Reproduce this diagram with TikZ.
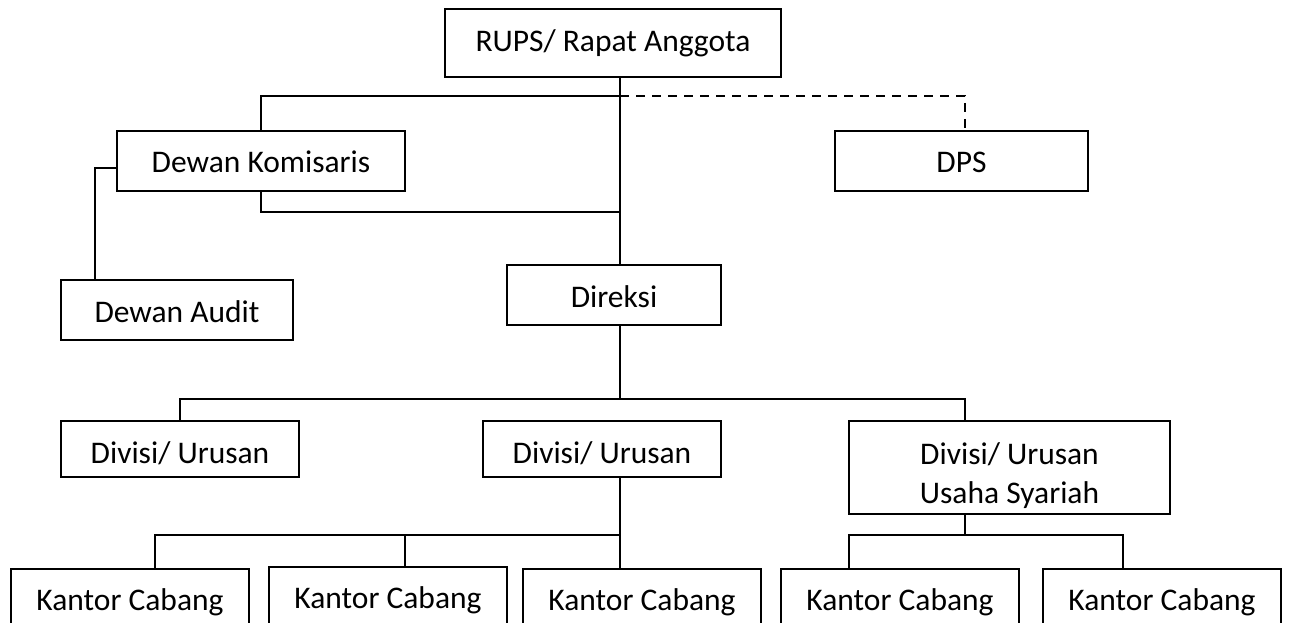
\documentclass[tikz,border=0pt]{standalone}
\usepackage{fontspec}
\setmainfont{Carlito}
\begin{document}
\begin{tikzpicture}[x=1pt,y=-1pt,
  box/.style={draw, line width=1.2pt, inner sep=0pt, text height=20pt, text depth=0pt,
    font=\fontsize{31.5}{39}\selectfont},
  conn/.style={line width=1.2pt},
  dconn/.style={line width=1.2pt, dash pattern=on 9pt off 7pt}]
\useasboundingbox (0,0) rectangle (1289,623);
\clip (0,0) rectangle (1289,623);
% boxes
\node[box, minimum width=336pt, minimum height=68pt, text height=18pt] (rups) at (613,43) {RUPS/ Rapat Anggota};
\node[box, minimum width=288pt, minimum height=60pt, text height=23pt] (dk) at (261,161) {Dewan Komisaris};
\node[box, minimum width=253pt, minimum height=60pt, text height=23pt] (dps) at (961.5,161) {DPS};
\node[box, minimum width=232pt, minimum height=60pt, text height=25pt] (da) at (177,310) {Dewan Audit};
\node[box, minimum width=214pt, minimum height=60pt, text height=24pt] (dir) at (614,295) {Direksi};
\node[box, minimum width=238pt, minimum height=56pt, text height=29pt] (div1) at (180,449) {Divisi/ Urusan};
\node[box, minimum width=238pt, minimum height=56pt, text height=29pt] (div2) at (602,449) {Divisi/ Urusan};
\node[box, minimum width=321pt, minimum height=93pt, align=center, text height=71pt] (div3) at (1009.5,467.5) {Divisi/ Urusan\\Usaha Syariah};
\node[box, minimum width=238pt, minimum height=62pt] (kc1) at (130,600) {Kantor Cabang};
\node[box, minimum width=238pt, minimum height=62pt] (kc2) at (388,598) {Kantor Cabang};
\node[box, minimum width=238pt, minimum height=62pt] (kc3) at (642,600) {Kantor Cabang};
\node[box, minimum width=238pt, minimum height=62pt] (kc4) at (900,600) {Kantor Cabang};
\node[box, minimum width=238pt, minimum height=62pt] (kc5) at (1162,600) {Kantor Cabang};
% junctions
\coordinate (trunk) at (620,96);
\coordinate (dkj) at (620,212);
\coordinate (dac) at (95,168);
\coordinate (divbar) at (620,399);
\coordinate (kcbar) at (620,535);
\coordinate (sybar) at (965,535);
% connectors
\draw[conn] (trunk |- rups.south) -- (trunk |- dir.north);
\draw[conn] (dk.north) |- (trunk);
\draw[dconn] (trunk) -| (965,0 |- dps.north);
\draw[conn] (dk.south) |- (dkj);
\draw[conn] ([yshift=-7pt]dk.west) -- (dac) -- (dac |- da.north);
\draw[conn] (trunk |- dir.south) -- (divbar);
\draw[conn] (div1.north) |- (divbar) -| (965,0 |- div3.north);
\draw[conn] (trunk |- div2.south) -- (trunk |- kc3.north);
\draw[conn] (155,0 |- kc1.north) |- (kcbar);
\draw[conn] (405,0 |- kcbar) -- (405,0 |- kc2.north);
\draw[conn] (sybar |- div3.south) -- (sybar);
\draw[conn] (849,0 |- kc4.north) |- (sybar) -| (1123,0 |- kc5.north);
\end{tikzpicture}
\end{document}
